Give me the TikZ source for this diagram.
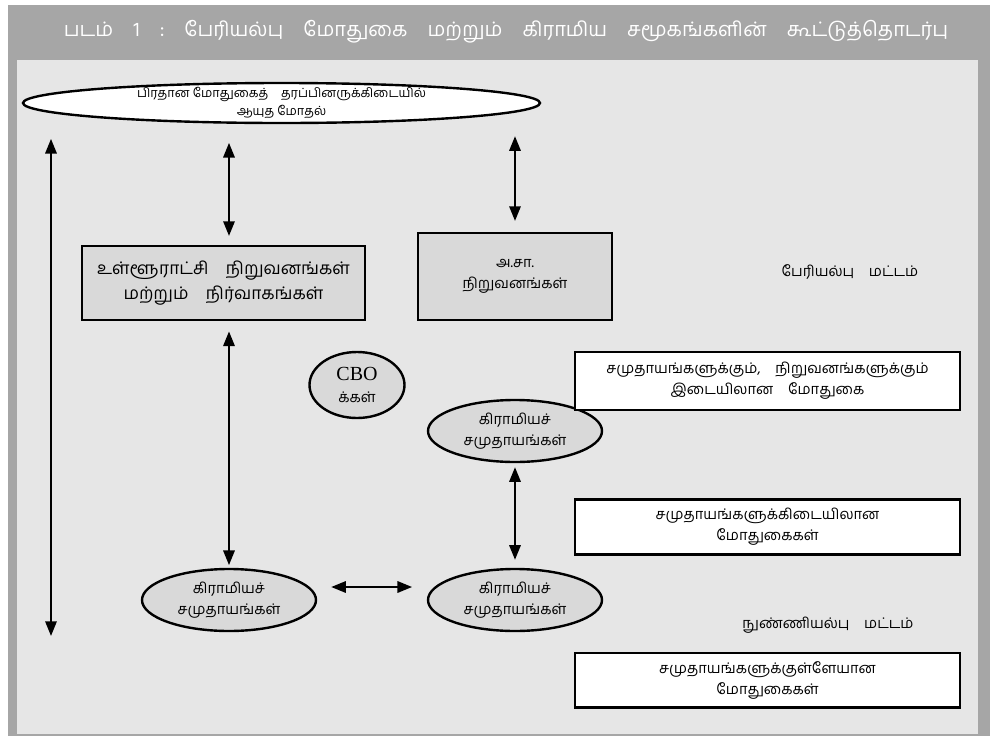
\documentclass[tikz,border=0pt]{standalone}
\usepackage{fontspec}
\setmainfont{Liberation Serif}
\newfontfamily\tamilfont[Script=Tamil]{Hind Madurai}
\usetikzlibrary{arrows.meta}
\usetikzlibrary{positioning}
\usetikzlibrary{shapes.geometric}
\definecolor{framegrey}{HTML}{A6A6A6}
\definecolor{panelgrey}{HTML}{E6E6E6}
\definecolor{cellgrey}{HTML}{D9D9D9}

\begin{document}
\begin{tikzpicture}[x=0.75pt, y=-0.75pt,
        txt/.style={font=\tamilfont\fontsize{11}{16}\selectfont, align=center},
        orgbox/.style={txt, draw, line width=2.1pt, fill=cellgrey, inner sep=0pt},
        notebox/.style={txt, draw, line width=2.1pt, fill=white, inner sep=0pt,
            minimum width=288.75pt, minimum height=41pt},
        oval/.style={txt, ellipse, draw, line width=1.8pt, fill=cellgrey, inner sep=0pt,
            minimum width=130.5pt, minimum height=46.5pt},
        twoway/.style={{Triangle[length=11pt,width=8.5pt]}-{Triangle[length=11pt,width=8.5pt]},
            line width=1.6pt}]
    \useasboundingbox (0,0) rectangle (990,736);
    \fill[framegrey] (8,5) rectangle (990,736);
    \fill[panelgrey] (17,60) rectangle (978,734);

    \node[font=\tamilfont\fontsize{15}{18}\selectfont, text=white] (title) at (506,32)
        {படம்\quad 1\quad :\quad பேரியல்பு\quad மோதுகை\quad மற்றும்\quad கிராமிய\quad சமூகங்களின்\quad கூட்டுத்தொடர்பு};

    \node[draw, ellipse, line width=1.8pt, fill=white, inner sep=0pt,
          minimum width=387.75pt, minimum height=30pt,
          label={[font=\tamilfont\fontsize{9.5}{14}\selectfont, align=center]center:பிரதான மோதுகைத்\quad தரப்பினருக்கிடையில்\\ஆயுத மோதல்}] (clash) at (281.5,103) {};

    \node[orgbox, font=\tamilfont\fontsize{13}{19}\selectfont,
          minimum width=212.25pt, minimum height=55.5pt] (lga) at (223.5,283)
        {உள்ளூராட்சி\quad நிறுவனங்கள்\\மற்றும்\quad நிர்வாகங்கள்};
    \node[orgbox, minimum width=145.5pt, minimum height=65.25pt] (asa) at (515,276.5)
        {அ.சா.\\நிறுவனங்கள்};

    \node[txt] (macro) at (850,272) {பேரியல்பு\quad மட்டம்};
    \node[txt] (micro) at (828,625) {நுண்ணியல்பு\quad மட்டம்};

    \node[oval, minimum width=71.25pt, minimum height=49.5pt] (cbo) at (357,385)
        {{\rmfamily\fontsize{15}{17}\selectfont CBO}\\க்கள்};
    \foreach \n/\x/\y in {vt/515/431, vl/229/600, vr/515/600}
        \node[oval] (\n) at (\x,\y) {கிராமியச்\\சமுதாயங்கள்};

    \node[notebox, minimum height=43.5pt] (inst) at (767.5,381)
        {சமுதாயங்களுக்கும்,\quad நிறுவனங்களுக்கும்\\இடையிலான\quad மோதுகை};
    \node[notebox, below=65pt of inst] (inter)
        {சமுதாயங்களுக்கிடையிலான\\மோதுகைகள்};
    \node[notebox, below=72pt of inter] (intra)
        {சமுதாயங்களுக்குள்ளேயான\\மோதுகைகள்};

    \coordinate (low) at (51,636);
    \draw[twoway, shorten <=11pt] (clash.south -| low) -- (low);
    \draw[twoway, shorten <=14pt, shorten >=6.5pt] (clash.south -| vl) -- (lga.north -| vl);
    \draw[twoway, shorten <=9pt, shorten >=8pt] (clash.south -| asa) -- (asa.north);
    \draw[twoway, shorten <=7.5pt, shorten >=2pt] (lga.south -| vl) -- (vl.north);
    \draw[twoway, shorten <=3pt, shorten >=6pt] (vt.south) -- (vr.north);
    \draw[twoway, shorten <=10.5pt, shorten >=11pt] ([yshift=9.75pt]vl.east) -- ([yshift=9.75pt]vr.west);
\end{tikzpicture}
\end{document}
